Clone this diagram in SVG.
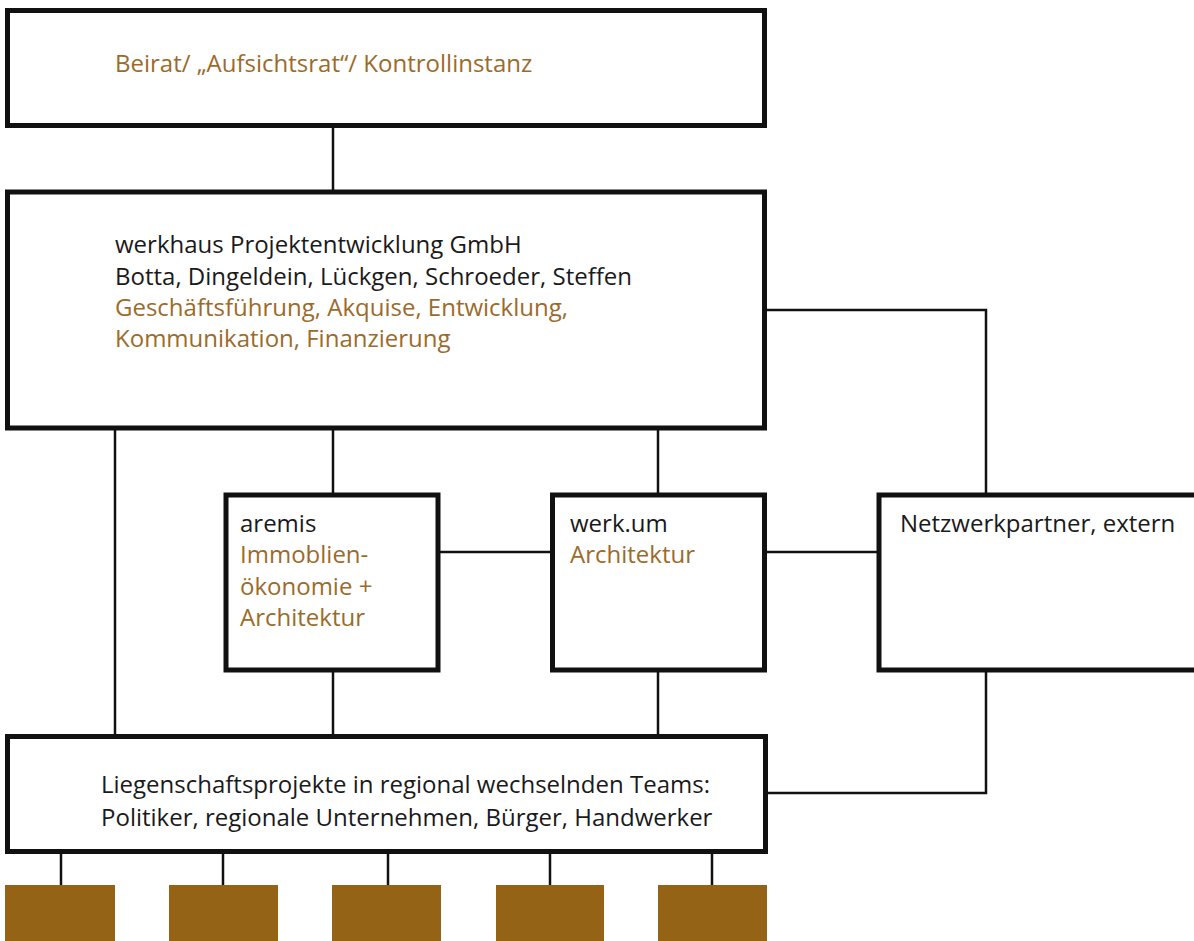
<svg xmlns="http://www.w3.org/2000/svg" width="1194" height="941" viewBox="0 0 1194 941">
<style>
.box{fill:#fff;stroke:#111;stroke-width:5}
.con{fill:none;stroke:#111;stroke-width:2.5}
.t{font-family:"Open Sans","Noto Sans",sans-serif;font-size:24px;fill:#1a1a1a}
.b{fill:#9b6b2b}
.tile{fill:#956316}
</style>
<rect width="1194" height="941" fill="#fff"/>
<g id="connectors">
<path class="con" d="M333 128V190"/>
<path class="con" d="M115 430V735"/>
<path class="con" d="M333 430V493"/>
<path class="con" d="M658 430V493"/>
<path class="con" d="M767 310H986V493"/>
<path class="con" d="M440 552H553"/>
<path class="con" d="M767 552H877"/>
<path class="con" d="M333 672V735"/>
<path class="con" d="M658 672V735"/>
<path class="con" d="M768 793H986V672"/>
<path class="con" d="M61 854V885M223 854V885M388 854V885M550 854V885M712 854V885"/>
</g>
<g id="beirat">
<rect class="box" x="7.5" y="10.5" width="757" height="115"/>
<text class="t b" x="115" y="72">Beirat/ „Aufsichtsrat“/ Kontrollinstanz</text>
</g>
<g id="werkhaus">
<rect class="box" x="7.5" y="192" width="757" height="236"/>
<text class="t" x="115" y="253">werkhaus Projektentwicklung GmbH</text>
<text class="t" x="115" y="285">Botta, Dingeldein, Lückgen, Schroeder, Steffen</text>
<text class="t b" x="115" y="316">Geschäftsführung, Akquise, Entwicklung,</text>
<text class="t b" x="115" y="347">Kommunikation, Finanzierung</text>
</g>
<g id="aremis">
<rect class="box" x="226" y="495" width="212" height="175"/>
<text class="t" x="240" y="532">aremis</text>
<text class="t b" x="240" y="563">Immoblien-</text>
<text class="t b" x="240" y="595">ökonomie +</text>
<text class="t b" x="240" y="626">Architektur</text>
</g>
<g id="werkum">
<rect class="box" x="552.5" y="495" width="212" height="175"/>
<text class="t" x="570" y="532">werk.um</text>
<text class="t b" x="570" y="563">Architektur</text>
</g>
<g id="netzwerk">
<rect class="box" x="879" y="495" width="330" height="175"/>
<text class="t" x="900" y="532">Netzwerkpartner, extern</text>
</g>
<g id="projekte">
<rect class="box" x="7.5" y="736.5" width="758" height="115"/>
<text class="t" x="101" y="793">Liegenschaftsprojekte in regional wechselnden Teams:</text>
<text class="t" x="101" y="826">Politiker, regionale Unternehmen, Bürger, Handwerker</text>
</g>
<g id="teams">
<rect class="tile" x="5" y="885" width="110" height="56"/>
<rect class="tile" x="169" y="885" width="109" height="56"/>
<rect class="tile" x="332" y="885" width="109" height="56"/>
<rect class="tile" x="496" y="885" width="108" height="56"/>
<rect class="tile" x="658" y="885" width="109" height="56"/>
</g>
</svg>
